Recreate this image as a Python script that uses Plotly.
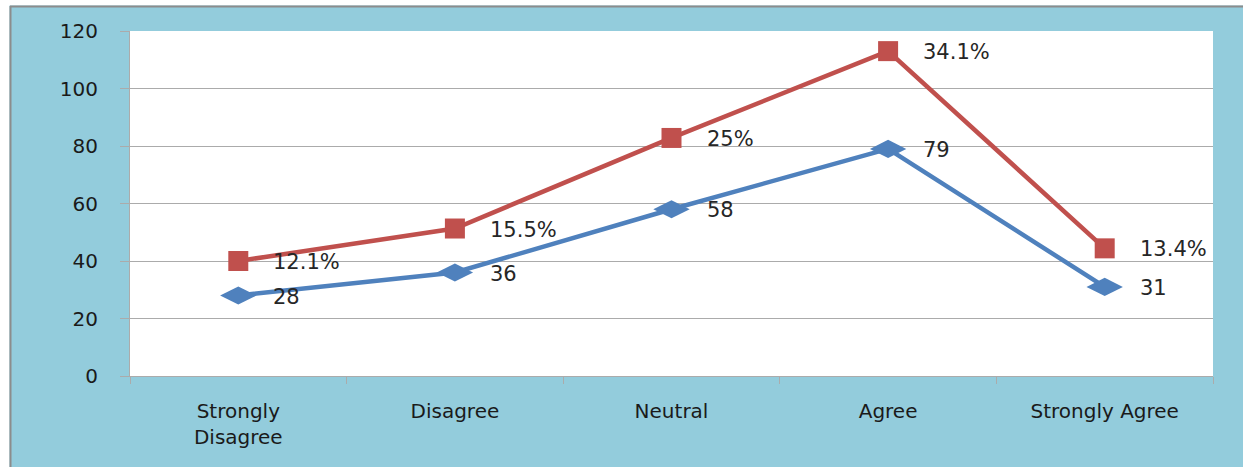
import plotly.graph_objects as go

categories = ["Strongly Disagree", "Disagree", "Neutral", "Agree", "Strongly Agree"]
tick_text = ["Strongly<br>Disagree", "Disagree", "Neutral", "Agree", "Strongly Agree"]
counts = [28, 36, 58, 79, 31]
pct_values = [40, 51.3, 82.8, 113, 44.4]
pct_labels = ["12.1%", "15.5%", "25%", "34.1%", "13.4%"]
y_ticks = [0, 20, 40, 60, 80, 100, 120]

BLUE = "#4F81BD"
RED = "#C0504D"
BG = "#93CCDC"
GRID = "#ABABAB"
FONT = "DejaVu Sans, Verdana, sans-serif"

W, H = 1243, 467
L, R, T, B = 130, 30, 31, 91

fig = go.Figure()
fig.add_trace(go.Scatter(
    x=categories, y=counts, mode="lines+markers",
    line=dict(color=BLUE, width=4.5),
    marker=dict(symbol="diamond-wide", size=26, color=BLUE),
    showlegend=False, hoverinfo="skip"))
fig.add_trace(go.Scatter(
    x=categories, y=pct_values, mode="lines+markers",
    line=dict(color=RED, width=4.5),
    marker=dict(symbol="square", size=20, color=RED),
    showlegend=False, hoverinfo="skip"))

for c, v in zip(categories, counts):
    fig.add_annotation(x=c, y=v, text=str(v), showarrow=False, xanchor="left",
                       yanchor="middle", xshift=33, yshift=-1,
                       font=dict(family=FONT, size=21, color="#262626"))
for c, v, t in zip(categories, pct_values, pct_labels):
    fig.add_annotation(x=c, y=v, text=t, showarrow=False, xanchor="left",
                       yanchor="middle", xshift=33, yshift=-1,
                       font=dict(family=FONT, size=21, color="#262626"))

pw = W - L - R
ph = H - T - B
def px_x(p):
    return (p - L) / pw
def px_y(p):
    return (H - B - p) / ph

shapes = [
    dict(type="rect", xref="paper", yref="paper", x0=px_x(0), x1=px_x(9.5),
         y0=px_y(H), y1=px_y(0), fillcolor="white", line=dict(width=0), layer="below"),
    dict(type="rect", xref="paper", yref="paper", x0=px_x(0), x1=px_x(W),
         y0=px_y(5.5), y1=px_y(0), fillcolor="white", line=dict(width=0), layer="below"),
    dict(type="line", xref="paper", yref="paper", x0=px_x(10.5), x1=px_x(10.5),
         y0=px_y(H), y1=px_y(6), line=dict(color="#8C8C8C", width=2), layer="below"),
    dict(type="line", xref="paper", yref="paper", x0=px_x(10), x1=px_x(W),
         y0=px_y(6.5), y1=px_y(6.5), line=dict(color="#8C8C8C", width=2), layer="below"),
]

fig.update_layout(
    width=W, height=H,
    margin=dict(l=L, r=R, t=T, b=B, pad=0),
    paper_bgcolor=BG, plot_bgcolor="white",
    font=dict(family=FONT, size=20, color="#1a1a1a"),
    shapes=shapes,
    xaxis=dict(
        type="category", categoryorder="array", categoryarray=categories,
        tickmode="array", tickvals=categories, ticktext=tick_text,
        tickson="boundaries", ticks="outside", ticklen=7, tickcolor=GRID,
        showgrid=False, showline=True, linecolor=GRID, linewidth=1,
        ticklabelstandoff=17, range=[-0.5, 4.5],
        tickfont=dict(family=FONT, size=20, color="#1a1a1a"),
    ),
    yaxis=dict(
        range=[0, 120], tickmode="array", tickvals=y_ticks,
        ticks="outside", ticklen=9, tickcolor=GRID,
        showgrid=True, gridcolor=GRID, gridwidth=1,
        showline=True, linecolor=GRID, linewidth=1, zeroline=False,
        ticklabelstandoff=18,
        tickfont=dict(family=FONT, size=20, color="#1a1a1a"),
    ),
)

fig.write_html("out.html")
